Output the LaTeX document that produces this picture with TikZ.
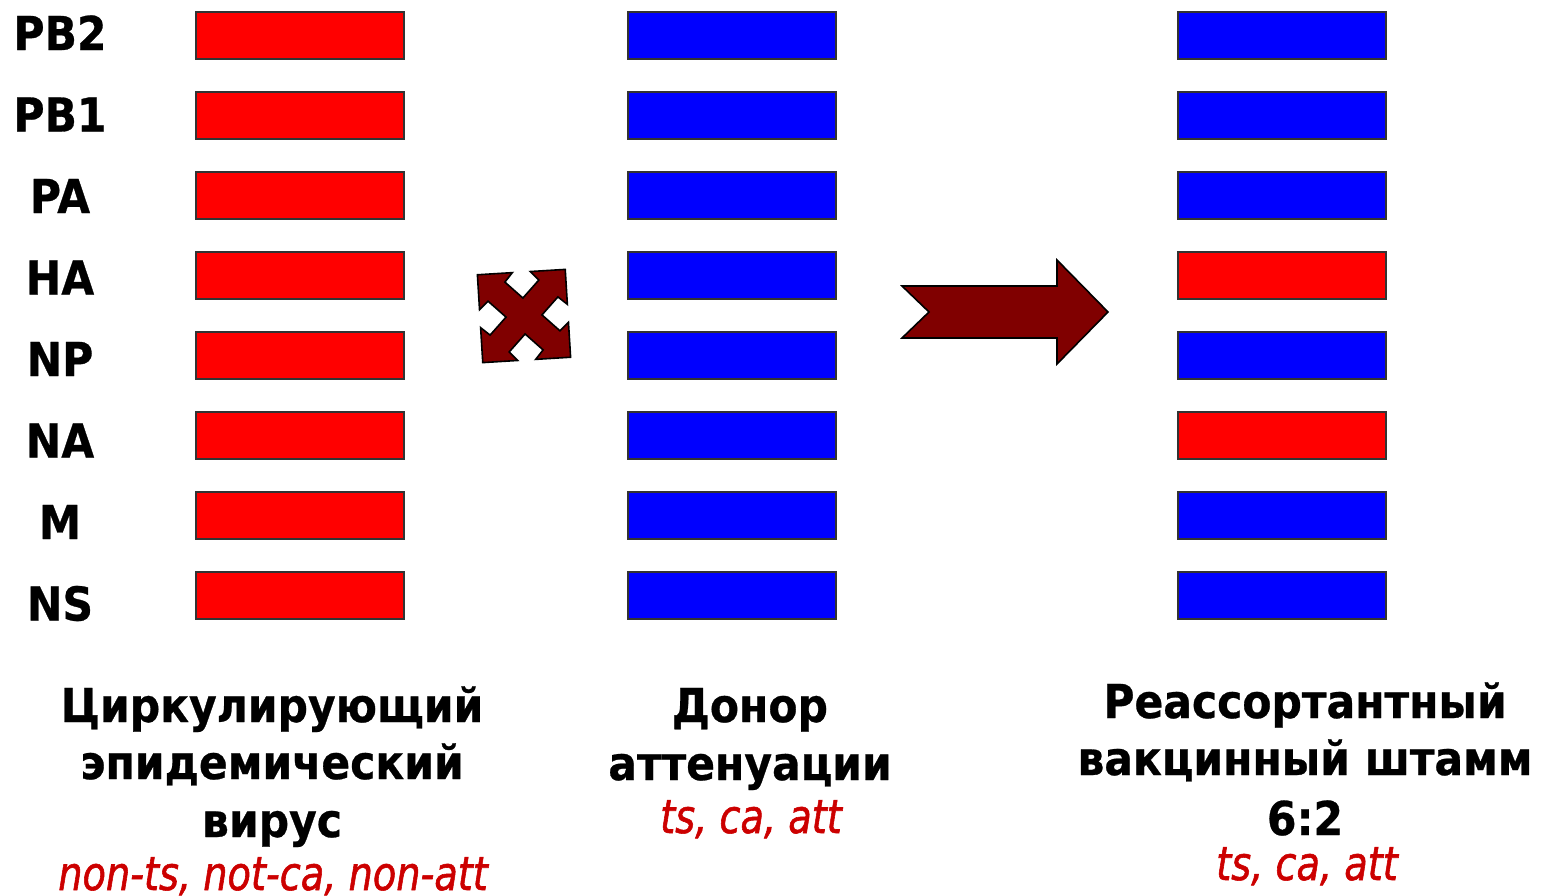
\documentclass[tikz,border=0pt]{standalone}
\usepackage{fontspec}
\setmainfont{DejaVu Sans}[BoldFeatures={FakeStretch=0.91,FakeBold=0.6},ItalicFeatures={FakeStretch=0.82,FakeBold=1.2}]
\definecolor{rd}{RGB}{255,0,0}
\definecolor{blu}{RGB}{0,0,255}
\definecolor{mar}{RGB}{128,0,0}
\definecolor{txr}{RGB}{204,0,0}
\tikzset{
    seg/.style={draw=black!80,line width=1pt,minimum width=156pt,minimum height=35.25pt,inner sep=0pt},
    seglab/.style={anchor=base,font=\fontsize{35}{42}\selectfont\bfseries},
    captxt/.style={anchor=base,font=\fontsize{35}{42}\selectfont\bfseries},
    prop/.style={anchor=base,text=txr,font=\fontsize{35}{42}\selectfont\itshape},
    arr/.style={fill=mar,draw=black,line width=1.2pt,line join=miter}
}

\begin{document}
\begin{tikzpicture}[x=0.75pt,y=-0.75pt]
    \useasboundingbox (0,0) rectangle (1550,896);
    % segments of the three viruses
    \foreach \lab/\rc [count=\i from 0] in {PB2/blu,PB1/blu,PA/blu,HA/rd,NP/blu,NA/rd,M/blu,NS/blu}{
        \node[seglab] (lab\i) at (60,{50+81.5*\i}) {\lab};
        \node[seg,fill=rd] (A\i) at (300,{35.5+80*\i}) {};
        \node[seg,fill=blu] (B\i) at (732,{35.5+80*\i}) {};
        \node[seg,fill=\rc] (C\i) at (1282,{35.5+80*\i}) {};
    }
    %
    % crossing sign
    \begin{scope}[shift={(524,316)},rotate=3.5]
        \draw[arr] (-44,44) -- (-9,44) -- (-17,35) -- (0,18) -- (17,35) -- (9,44)
            -- (44,44) -- (44,9) -- (35,17) -- (18,0) -- (35,-17) -- (44,-9)
            -- (44,-44) -- (9,-44) -- (17,-35) -- (0,-18) -- (-17,-35) -- (-9,-44)
            -- (-44,-44) -- (-44,-9) -- (-35,-17) -- (-18,0) -- (-35,17) -- (-44,9) -- cycle;
    \end{scope}
    %
    % result arrow
    \draw[arr] (902,286) -- (1057,286) -- (1057,260) -- (1108,312) -- (1057,364)
        -- (1057,338) -- (902,338) -- (929,312) -- cycle;
    %
    % captions
    \node[captxt] (c1a) at (272,722) {Циркулирующий};
    \node[captxt] (c1b) at (272,779) {эпидемический};
    \node[captxt] (c1c) at (272,837) {вирус};
    \node[prop] (p1) at (273,890) {non-ts, not-ca, non-att};
    %
    \node[captxt] (c2a) at (750,722) {Донор};
    \node[captxt] (c2b) at (750,780) {аттенуации};
    \node[prop] (p2) at (751,833) {ts, ca, att};
    %
    \node[captxt] (c3a) at (1305,718) {Реассортантный};
    \node[captxt] (c3b) at (1305,775) {вакцинный штамм};
    \node[captxt] (c3c) at (1305,835) {6:2};
    \node[prop] (p3) at (1307,880) {ts, ca, att};
\end{tikzpicture}
\end{document}
